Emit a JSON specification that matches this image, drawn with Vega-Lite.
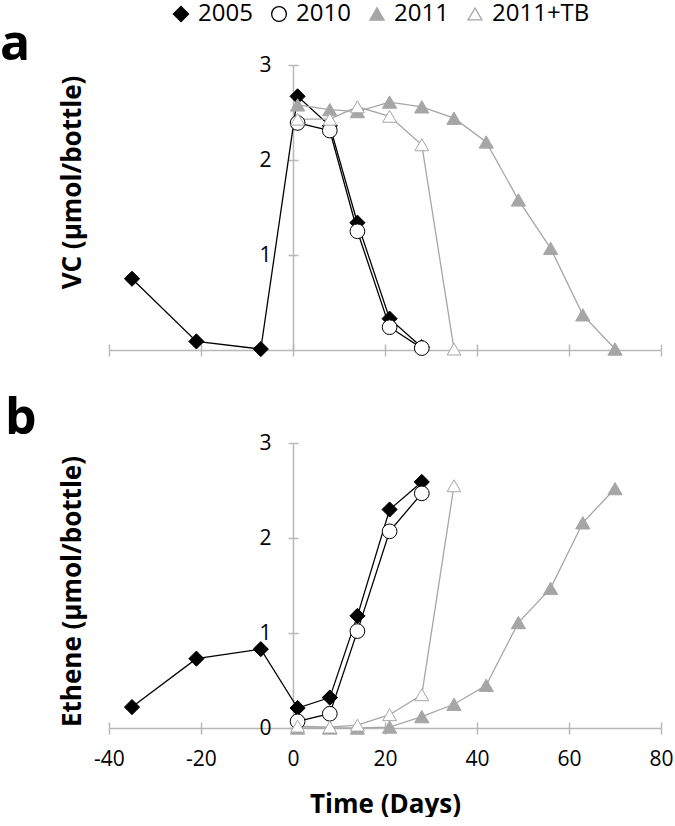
{
  "$schema": "https://vega.github.io/schema/vega-lite/v6.json",
  "padding": {"left": 0, "top": 2, "right": 6, "bottom": 0},
  "config": {
    "font": "Open Sans",
    "view": {"stroke": null},
    "axis": {"grid": false, "domainColor": "#b8b8b8", "tickColor": "#b8b8b8", "domainWidth": 1.5, "tickWidth": 1.5, "labelColor": "#000000", "labelFont": "Open Sans", "labelFontSize": 21, "titleFont": "Open Sans", "titleFontSize": 26, "titleFontWeight": "bold", "titleColor": "#000000", "labelFlush": false, "labelOverlap": false},
    "legend": {"title": null, "orient": "none", "legendX": 60, "legendY": -63, "padding": 0, "direction": "horizontal", "columns": 4, "columnPadding": 14, "labelOffset": 5, "labelFontSize": 24, "labelFont": "Open Sans", "labelColor": "#000000", "symbolStrokeWidth": 1.3, "symbolOpacity": 1}
  },
  "data": {"values": [
    {"panel": "VC", "series": "2005", "day": -35, "value": 0.75},
    {"panel": "VC", "series": "2005", "day": -21, "value": 0.09},
    {"panel": "VC", "series": "2005", "day": -7, "value": 0.01},
    {"panel": "VC", "series": "2005", "day": 1, "value": 2.67},
    {"panel": "VC", "series": "2005", "day": 8, "value": 2.36},
    {"panel": "VC", "series": "2005", "day": 14, "value": 1.34},
    {"panel": "VC", "series": "2005", "day": 21, "value": 0.33},
    {"panel": "VC", "series": "2005", "day": 28, "value": 0.03},
    {"panel": "VC", "series": "2010", "day": 1, "value": 2.39},
    {"panel": "VC", "series": "2010", "day": 8, "value": 2.31},
    {"panel": "VC", "series": "2010", "day": 14, "value": 1.25},
    {"panel": "VC", "series": "2010", "day": 21, "value": 0.24},
    {"panel": "VC", "series": "2010", "day": 28, "value": 0.02},
    {"panel": "VC", "series": "2011", "day": 1, "value": 2.58},
    {"panel": "VC", "series": "2011", "day": 8, "value": 2.53},
    {"panel": "VC", "series": "2011", "day": 14, "value": 2.51},
    {"panel": "VC", "series": "2011", "day": 21, "value": 2.61},
    {"panel": "VC", "series": "2011", "day": 28, "value": 2.56},
    {"panel": "VC", "series": "2011", "day": 35, "value": 2.44},
    {"panel": "VC", "series": "2011", "day": 42, "value": 2.19},
    {"panel": "VC", "series": "2011", "day": 49, "value": 1.58},
    {"panel": "VC", "series": "2011", "day": 56, "value": 1.07},
    {"panel": "VC", "series": "2011", "day": 63, "value": 0.37},
    {"panel": "VC", "series": "2011", "day": 70, "value": 0.01},
    {"panel": "VC", "series": "2011+TB", "day": 1, "value": 2.43},
    {"panel": "VC", "series": "2011+TB", "day": 8, "value": 2.43},
    {"panel": "VC", "series": "2011+TB", "day": 14, "value": 2.56},
    {"panel": "VC", "series": "2011+TB", "day": 21, "value": 2.46},
    {"panel": "VC", "series": "2011+TB", "day": 28, "value": 2.16},
    {"panel": "VC", "series": "2011+TB", "day": 35, "value": 0.01},
    {"panel": "Ethene", "series": "2005", "day": -35, "value": 0.22},
    {"panel": "Ethene", "series": "2005", "day": -21, "value": 0.73},
    {"panel": "Ethene", "series": "2005", "day": -7, "value": 0.83},
    {"panel": "Ethene", "series": "2005", "day": 1, "value": 0.21},
    {"panel": "Ethene", "series": "2005", "day": 8, "value": 0.32},
    {"panel": "Ethene", "series": "2005", "day": 14, "value": 1.18},
    {"panel": "Ethene", "series": "2005", "day": 21, "value": 2.3},
    {"panel": "Ethene", "series": "2005", "day": 28, "value": 2.59},
    {"panel": "Ethene", "series": "2010", "day": 1, "value": 0.07},
    {"panel": "Ethene", "series": "2010", "day": 8, "value": 0.15},
    {"panel": "Ethene", "series": "2010", "day": 14, "value": 1.02},
    {"panel": "Ethene", "series": "2010", "day": 21, "value": 2.07},
    {"panel": "Ethene", "series": "2010", "day": 28, "value": 2.47},
    {"panel": "Ethene", "series": "2011", "day": 1, "value": 0.0},
    {"panel": "Ethene", "series": "2011", "day": 8, "value": 0.0},
    {"panel": "Ethene", "series": "2011", "day": 14, "value": 0.0},
    {"panel": "Ethene", "series": "2011", "day": 21, "value": 0.01},
    {"panel": "Ethene", "series": "2011", "day": 28, "value": 0.12},
    {"panel": "Ethene", "series": "2011", "day": 35, "value": 0.25},
    {"panel": "Ethene", "series": "2011", "day": 42, "value": 0.45},
    {"panel": "Ethene", "series": "2011", "day": 49, "value": 1.11},
    {"panel": "Ethene", "series": "2011", "day": 56, "value": 1.47},
    {"panel": "Ethene", "series": "2011", "day": 63, "value": 2.16},
    {"panel": "Ethene", "series": "2011", "day": 70, "value": 2.52},
    {"panel": "Ethene", "series": "2011+TB", "day": 1, "value": 0.02},
    {"panel": "Ethene", "series": "2011+TB", "day": 8, "value": 0.01},
    {"panel": "Ethene", "series": "2011+TB", "day": 14, "value": 0.03},
    {"panel": "Ethene", "series": "2011+TB", "day": 21, "value": 0.14},
    {"panel": "Ethene", "series": "2011+TB", "day": 28, "value": 0.35},
    {"panel": "Ethene", "series": "2011+TB", "day": 35, "value": 2.55}
  ]},
  "bounds": "flush",
  "spacing": 93,
  "resolve": {"scale": {"shape": "shared", "fill": "shared", "stroke": "shared", "size": "shared"}, "legend": {"shape": "shared", "fill": "shared", "stroke": "shared", "size": "shared"}},
  "vconcat": [
    {
      "width": 552, "height": 285,
      "title": {"text": "a", "anchor": "start", "frame": "group", "fontSize": 50, "fontWeight": "bold", "color": "#000000", "dx": -109, "offset": -16},
      "transform": [{"filter": "datum.panel === 'VC'"}],
      "layer": [
        {
          "mark": {"type": "line", "strokeWidth": 1.3},
          "encoding": {
            "x": {"field": "day", "type": "quantitative", "scale": {"domain": [-40, 80], "nice": false, "zero": false},
                  "axis": {"orient": "bottom", "values": [-40, -20, 0, 20, 40, 60, 80], "labels": false, "title": null, "tickSize": 6}},
            "y": {"field": "value", "type": "quantitative", "scale": {"domain": [0, 3], "nice": false},
                  "axis": {"orient": "left", "offset": -184, "values": [1, 2, 3], "tickSize": 5, "labelPadding": 17, "title": "VC (µmol/bottle)", "titleX": -221, "titleY": 117, "titleBaseline": "middle", "titleAlign": "center"}},
            "stroke": {"field": "series", "type": "nominal", "scale": {"domain": ["2005", "2010", "2011", "2011+TB"], "range": ["#000000", "#000000", "#a6a6a6", "#a6a6a6"]}}
          }
        },
        {
          "mark": {"type": "point", "filled": true, "opacity": 1, "strokeWidth": 1},
          "encoding": {
            "x": {"field": "day", "type": "quantitative", "axis": null},
            "y": {"field": "value", "type": "quantitative", "axis": null},
            "stroke": {"field": "series", "type": "nominal"},
            "fill": {"field": "series", "type": "nominal", "scale": {"domain": ["2005", "2010", "2011", "2011+TB"], "range": ["#000000", "#ffffff", "#a6a6a6", "#ffffff"]}},
            "size": {"field": "series", "type": "ordinal", "scale": {"domain": ["2005", "2010", "2011", "2011+TB"], "range": [230, 190, 260, 260]}},
            "shape": {"field": "series", "type": "nominal", "scale": {"domain": ["2005", "2010", "2011", "2011+TB"], "range": ["diamond", "circle", "triangle-up", "triangle-up"]}}
          }
        },
        {
          "mark": {"type": "point", "opacity": 0},
          "encoding": {
            "x": {"field": "day", "type": "quantitative", "axis": {"orient": "top", "offset": -285, "values": [-40, -20, 0, 20, 40, 60, 80], "labels": false, "domain": false, "title": null, "tickSize": 6}},
            "y": {"field": "value", "type": "quantitative", "axis": {"orient": "right", "offset": -368, "values": [1, 2, 3], "labels": false, "domain": false, "title": null, "tickSize": 5}}
          }
        }
      ],
      "resolve": {"axis": {"x": "independent", "y": "independent"}}
    },
    {
      "width": 552, "height": 285,
      "title": {"text": "b", "anchor": "start", "frame": "group", "fontSize": 50, "fontWeight": "bold", "color": "#000000", "dx": -104, "offset": -12},
      "transform": [{"filter": "datum.panel === 'Ethene'"}],
      "layer": [
        {
          "mark": {"type": "line", "strokeWidth": 1.3},
          "encoding": {
            "x": {"field": "day", "type": "quantitative", "scale": {"domain": [-40, 80], "nice": false, "zero": false},
                  "axis": {"orient": "bottom", "values": [-40, -20, 0, 20, 40, 60, 80], "labelExpr": "replace(datum.label, '−', '-')", "title": "Time (Days)", "tickSize": 6, "labelPadding": 14, "titlePadding": 22}},
            "y": {"field": "value", "type": "quantitative", "scale": {"domain": [0, 3], "nice": false},
                  "axis": {"orient": "left", "offset": -184, "values": [0, 1, 2, 3], "tickSize": 5, "labelPadding": 17, "title": "Ethene (µmol/bottle)", "titleX": -221, "titleY": 148, "titleBaseline": "middle", "titleAlign": "center"}},
            "stroke": {"field": "series", "type": "nominal", "scale": {"domain": ["2005", "2010", "2011", "2011+TB"], "range": ["#000000", "#000000", "#a6a6a6", "#a6a6a6"]}}
          }
        },
        {
          "mark": {"type": "point", "filled": true, "opacity": 1, "strokeWidth": 1},
          "encoding": {
            "x": {"field": "day", "type": "quantitative", "axis": null},
            "y": {"field": "value", "type": "quantitative", "axis": null},
            "stroke": {"field": "series", "type": "nominal"},
            "fill": {"field": "series", "type": "nominal", "scale": {"domain": ["2005", "2010", "2011", "2011+TB"], "range": ["#000000", "#ffffff", "#a6a6a6", "#ffffff"]}},
            "size": {"field": "series", "type": "ordinal", "scale": {"domain": ["2005", "2010", "2011", "2011+TB"], "range": [230, 190, 260, 260]}},
            "shape": {"field": "series", "type": "nominal", "scale": {"domain": ["2005", "2010", "2011", "2011+TB"], "range": ["diamond", "circle", "triangle-up", "triangle-up"]}}
          }
        },
        {
          "mark": {"type": "point", "opacity": 0},
          "encoding": {
            "x": {"field": "day", "type": "quantitative", "axis": {"orient": "top", "offset": -285, "values": [-40, -20, 0, 20, 40, 60, 80], "labels": false, "domain": false, "title": null, "tickSize": 6}},
            "y": {"field": "value", "type": "quantitative", "axis": {"orient": "right", "offset": -368, "values": [0, 1, 2, 3], "labels": false, "domain": false, "title": null, "tickSize": 5}}
          }
        }
      ],
      "resolve": {"axis": {"x": "independent", "y": "independent"}}
    }
  ]
}
